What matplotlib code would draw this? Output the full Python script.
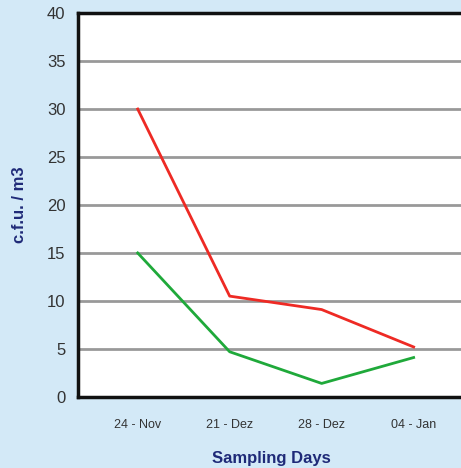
import matplotlib.pyplot as plt
import numpy as np

days = ["24 - Nov", "21 - Dez", "28 - Dez", "04 - Jan"]
red_values = [30.0, 10.5, 9.1, 5.2]
green_values = [15.0, 4.7, 1.4, 4.1]
y_ticks = [0, 5, 10, 15, 20, 25, 30, 35, 40]

bg = "#d3e9f7"
navy = "#1f2a78"

plt.rcParams["font.family"] = ["Liberation Sans", "DejaVu Sans"]

fig = plt.figure(figsize=(4.61, 4.68), dpi=100, facecolor=bg)
ax = fig.add_axes([0.169, 0.152, 0.84, 0.82])
ax.set_facecolor("white")

x = np.arange(len(days))
ax.plot(x, red_values, color="#ee2a24", linewidth=2)
ax.plot(x, green_values, color="#1fa93a", linewidth=2)

ax.set_ylim(0, 40)
ax.set_xlim(-0.65, 3.56)
ax.set_yticks(y_ticks)
ax.set_xticks(x)
ax.set_xticklabels(days, fontsize=9, color="#333333")
ax.tick_params(axis="y", labelsize=12, colors="#333333", length=0, pad=9)
ax.tick_params(axis="x", length=0, pad=16)

ax.yaxis.grid(True, color="#999999", linewidth=2)
ax.set_axisbelow(True)

for side in ["left", "bottom", "top"]:
    ax.spines[side].set_linewidth(2.5)
    ax.spines[side].set_color("#111111")
ax.spines["right"].set_visible(False)

ax.set_ylabel("c.f.u. / m3", fontsize=12, fontweight="bold", color=navy, labelpad=14)
ax.set_xlabel("Sampling Days", fontsize=12, fontweight="bold", color=navy, labelpad=14)

fig.savefig("out.png", dpi=100, facecolor=bg)
